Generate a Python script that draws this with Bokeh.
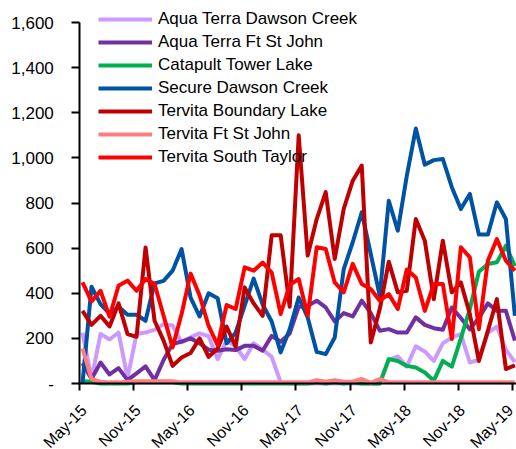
import math
from bokeh.plotting import figure
from bokeh.models import Range1d, FixedTicker, Legend, LegendItem, LinearAxis
from bokeh.embed import file_html
from bokeh.resources import INLINE

# ---- data ----
tick_pos = [0, 6, 12, 18, 24, 30, 36, 42, 48]
tick_labels = ["May-15", "Nov-15", "May-16", "Nov-16", "May-17", "Nov-17", "May-18", "Nov-18", "May-19"]
y_ticks = [0, 200, 400, 600, 800, 1000, 1200, 1400, 1600]
y_labels = ["-", "200", "400", "600", "800", "1,000", "1,200", "1,400", "1,600"]

names = ["Aqua Terra Dawson Creek", "Aqua Terra Ft St John", "Catapult Tower Lake",
         "Secure Dawson Creek", "Tervita Boundary Lake", "Tervita Ft St John", "Tervita South Taylor"]
colors = ["#CC99FF", "#7030A0", "#00B050", "#0052A4", "#C00000", "#FF7C80", "#FF0000"]

aqua_dawson = [226, 20, 220, 195, 226, 25, 219, 226, 238, 263, 257, 182, 205, 222, 210, 108, 190, 165,
               108, 178, 150, 118, 5, 0, 0, 0, 0, 0, 0, 0, 0, 0, 0, 0, 105, 120, 75, 165, 142, 100,
               178, 204, 219, 93, 105, 225, 252, 150, 95]
aqua_ftsj = [90, 20, 93, 40, 68, 15, 45, 76, 15, 104, 175, 186, 200, 178, 150, 145, 152, 148, 167, 167,
             145, 211, 185, 222, 340, 345, 367, 337, 275, 312, 297, 367, 312, 234, 241, 226, 226, 293,
             260, 245, 238, 337, 290, 240, 290, 355, 322, 322, 190]
catapult = [10, 8, 0, 0, 0, 0, 5, 5, 5, 5, 5, 0, 0, 0, 0, 0, 0, 0, 0, 0, 0, 0, 0, 0, 0, 0, 8, 0, 8, 0,
            5, 0, 0, 0, 108, 100, 78, 71, 49, 12, 100, 75, 200, 330, 495, 530, 537, 611, 520]
secure_dc = [0, 429, 352, 310, 340, 305, 305, 278, 444, 455, 500, 596, 381, 297, 400, 378, 178, 225,
             345, 465, 350, 275, 138, 240, 381, 293, 140, 130, 204, 507, 626, 759, 574, 389, 810, 677,
             920, 1130, 970, 990, 995, 870, 773, 840, 660, 660, 803, 729, 300]
tervita_bl = [322, 260, 300, 253, 355, 219, 207, 603, 278, 190, 78, 115, 135, 200, 118, 155, 252, 163,
              426, 355, 300, 657, 657, 340, 1100, 567, 729, 848, 552, 774, 899, 966, 182, 330, 540, 404,
              411, 729, 633, 374, 633, 404, 448, 308, 100, 233, 374, 64, 80]
tervita_ftsj = [155, 20, 8, 5, 5, 8, 10, 10, 10, 10, 10, 5, 5, 5, 5, 5, 5, 5, 5, 5, 5, 5, 5, 5, 5, 5,
                15, 8, 15, 8, 8, 20, 3, 20, 5, 5, 5, 5, 5, 5, 5, 5, 5, 5, 5, 5, 5, 5, 5]
tervita_st = [448, 364, 411, 296, 433, 456, 411, 463, 441, 300, 160, 308, 487, 390, 255, 170, 348, 330,
              515, 500, 536, 492, 308, 437, 463, 300, 604, 596, 448, 404, 530, 441, 419, 367, 396, 330,
              505, 470, 322, 441, 441, 197, 604, 559, 241, 544, 640, 544, 500]

series = [aqua_dawson, aqua_ftsj, catapult, secure_dc, tervita_bl, tervita_ftsj, tervita_st]

FONT = "Liberation Sans"
x_vals = [i + 0.3 for i in range(len(secure_dc))]

# The frame fills the whole canvas; axes are pinned at data 0 so that their labels stay visible.
W, H = 516, 449
PX_PER_UNIT = 361 / 1600.0      # vertical scale
PX_PER_MONTH = 9.008            # horizontal scale
x0 = -79.3 / PX_PER_MONTH
y0 = -66 / PX_PER_UNIT
p = figure(width=W, height=H, output_backend="svg", toolbar_location=None,
           x_range=Range1d(x0, x0 + W / PX_PER_MONTH),
           y_range=Range1d(y0, y0 + (H - 4) / PX_PER_UNIT),
           min_border_left=0, min_border_right=0, min_border_top=4, min_border_bottom=0)
p.xgrid.visible = False
p.ygrid.visible = False
p.outline_line_color = None
p.background_fill_color = "white"

items = []
for name, col, vals in zip(names, colors, series):
    r = p.line(x_vals, vals, line_color=col, line_width=4, line_join="round")
    items.append(LegendItem(label=name, renderers=[r]))

# y axis pinned at x = 0
ya = p.yaxis[0]
ya.fixed_location = 0
ya.bounds = (0, 1600)
ya.ticker = FixedTicker(ticks=y_ticks)
ya.major_label_overrides = {t: l for t, l in zip(y_ticks, y_labels)}
ya.axis_line_color = "black"
ya.axis_line_width = 2
ya.major_tick_line_color = "black"
ya.major_tick_line_width = 2
ya.major_tick_in = 0
ya.major_tick_out = 8
ya.minor_tick_line_color = None
ya.major_label_standoff = 18
ya.major_label_text_font = FONT
ya.major_label_text_font_size = "17px"
ya.major_label_text_color = "black"

# x axis (line + ticks) pinned at value 0
xa = p.xaxis[0]
xa.fixed_location = 0
xa.bounds = (0, 60)
xa.ticker = FixedTicker(ticks=tick_pos)
xa.major_label_overrides = {t: "" for t in tick_pos}
xa.major_label_text_font_size = "0px"
xa.axis_line_color = "black"
xa.axis_line_width = 2
xa.major_tick_line_color = "black"
xa.major_tick_line_width = 2
xa.major_tick_in = 0
xa.major_tick_out = 7
xa.minor_tick_line_color = None

# second axis carrying only the rotated month labels, nudged right of the ticks
label_pos = [t + 0.45 for t in tick_pos]
la = LinearAxis(fixed_location=0, ticker=FixedTicker(ticks=label_pos),
                major_label_overrides={t: l for t, l in zip(label_pos, tick_labels)},
                axis_line_color=None, major_tick_line_color=None, minor_tick_line_color=None,
                major_tick_in=0, major_tick_out=0, major_label_standoff=24,
                major_label_orientation=math.pi / 4,
                major_label_text_font=FONT, major_label_text_font_size="16px",
                major_label_text_color="black")
p.add_layout(la, "below")

legend = Legend(items=items, location=(98, 282))
legend.border_line_color = None
legend.background_fill_alpha = 0
legend.padding = 0
legend.margin = 0
legend.spacing = 3
legend.glyph_width = 54
legend.glyph_height = 20
legend.label_height = 20
legend.label_standoff = 6
legend.label_text_font = FONT
legend.label_text_font_size = "17px"
legend.label_text_color = "black"
p.add_layout(legend, "center")

open("out.html", "w").write(file_html(p, INLINE))
